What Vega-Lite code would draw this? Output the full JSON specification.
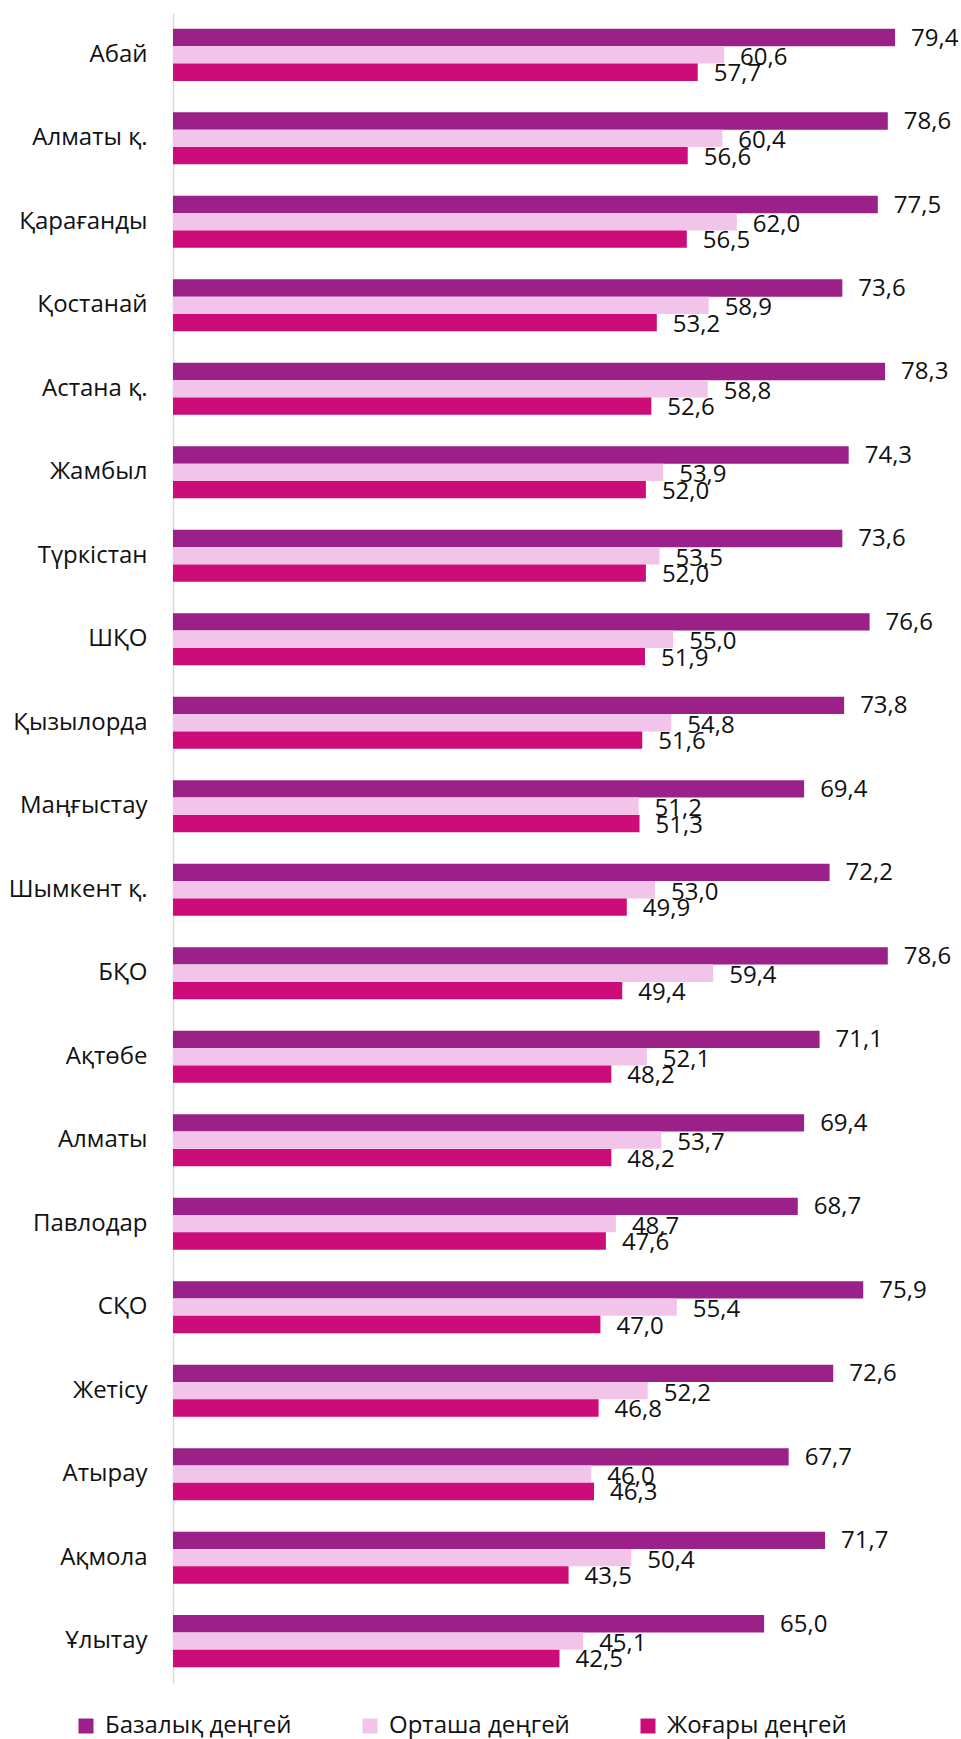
{
  "$schema": "https://vega.github.io/schema/vega-lite/v6.json",
  "width": 773,
  "height": 1670,
  "autosize": {"type": "none"},
  "padding": {"left": 173, "top": 13, "right": 15, "bottom": 56},
  "background": "white",
  "config": {
    "view": {"stroke": null},
    "font": "Open Sans",
    "locale": {"number": {"decimal": ",", "thousands": " ", "grouping": [3], "currency": ["", ""]}}
  },
  "data": {
    "values": [
      {"region": "Абай", "level": "Базалық деңгей", "value": 79.4},
      {"region": "Абай", "level": "Орташа деңгей", "value": 60.6},
      {"region": "Абай", "level": "Жоғары деңгей", "value": 57.7},
      {"region": "Алматы қ.", "level": "Базалық деңгей", "value": 78.6},
      {"region": "Алматы қ.", "level": "Орташа деңгей", "value": 60.4},
      {"region": "Алматы қ.", "level": "Жоғары деңгей", "value": 56.6},
      {"region": "Қарағанды", "level": "Базалық деңгей", "value": 77.5},
      {"region": "Қарағанды", "level": "Орташа деңгей", "value": 62.0},
      {"region": "Қарағанды", "level": "Жоғары деңгей", "value": 56.5},
      {"region": "Қостанай", "level": "Базалық деңгей", "value": 73.6},
      {"region": "Қостанай", "level": "Орташа деңгей", "value": 58.9},
      {"region": "Қостанай", "level": "Жоғары деңгей", "value": 53.2},
      {"region": "Астана қ.", "level": "Базалық деңгей", "value": 78.3},
      {"region": "Астана қ.", "level": "Орташа деңгей", "value": 58.8},
      {"region": "Астана қ.", "level": "Жоғары деңгей", "value": 52.6},
      {"region": "Жамбыл", "level": "Базалық деңгей", "value": 74.3},
      {"region": "Жамбыл", "level": "Орташа деңгей", "value": 53.9},
      {"region": "Жамбыл", "level": "Жоғары деңгей", "value": 52.0},
      {"region": "Түркістан", "level": "Базалық деңгей", "value": 73.6},
      {"region": "Түркістан", "level": "Орташа деңгей", "value": 53.5},
      {"region": "Түркістан", "level": "Жоғары деңгей", "value": 52.0},
      {"region": "ШҚО", "level": "Базалық деңгей", "value": 76.6},
      {"region": "ШҚО", "level": "Орташа деңгей", "value": 55.0},
      {"region": "ШҚО", "level": "Жоғары деңгей", "value": 51.9},
      {"region": "Қызылорда", "level": "Базалық деңгей", "value": 73.8},
      {"region": "Қызылорда", "level": "Орташа деңгей", "value": 54.8},
      {"region": "Қызылорда", "level": "Жоғары деңгей", "value": 51.6},
      {"region": "Маңғыстау", "level": "Базалық деңгей", "value": 69.4},
      {"region": "Маңғыстау", "level": "Орташа деңгей", "value": 51.2},
      {"region": "Маңғыстау", "level": "Жоғары деңгей", "value": 51.3},
      {"region": "Шымкент қ.", "level": "Базалық деңгей", "value": 72.2},
      {"region": "Шымкент қ.", "level": "Орташа деңгей", "value": 53.0},
      {"region": "Шымкент қ.", "level": "Жоғары деңгей", "value": 49.9},
      {"region": "БҚО", "level": "Базалық деңгей", "value": 78.6},
      {"region": "БҚО", "level": "Орташа деңгей", "value": 59.4},
      {"region": "БҚО", "level": "Жоғары деңгей", "value": 49.4},
      {"region": "Ақтөбе", "level": "Базалық деңгей", "value": 71.1},
      {"region": "Ақтөбе", "level": "Орташа деңгей", "value": 52.1},
      {"region": "Ақтөбе", "level": "Жоғары деңгей", "value": 48.2},
      {"region": "Алматы", "level": "Базалық деңгей", "value": 69.4},
      {"region": "Алматы", "level": "Орташа деңгей", "value": 53.7},
      {"region": "Алматы", "level": "Жоғары деңгей", "value": 48.2},
      {"region": "Павлодар", "level": "Базалық деңгей", "value": 68.7},
      {"region": "Павлодар", "level": "Орташа деңгей", "value": 48.7},
      {"region": "Павлодар", "level": "Жоғары деңгей", "value": 47.6},
      {"region": "СҚО", "level": "Базалық деңгей", "value": 75.9},
      {"region": "СҚО", "level": "Орташа деңгей", "value": 55.4},
      {"region": "СҚО", "level": "Жоғары деңгей", "value": 47.0},
      {"region": "Жетісу", "level": "Базалық деңгей", "value": 72.6},
      {"region": "Жетісу", "level": "Орташа деңгей", "value": 52.2},
      {"region": "Жетісу", "level": "Жоғары деңгей", "value": 46.8},
      {"region": "Атырау", "level": "Базалық деңгей", "value": 67.7},
      {"region": "Атырау", "level": "Орташа деңгей", "value": 46.0},
      {"region": "Атырау", "level": "Жоғары деңгей", "value": 46.3},
      {"region": "Ақмола", "level": "Базалық деңгей", "value": 71.7},
      {"region": "Ақмола", "level": "Орташа деңгей", "value": 50.4},
      {"region": "Ақмола", "level": "Жоғары деңгей", "value": 43.5},
      {"region": "Ұлытау", "level": "Базалық деңгей", "value": 65.0},
      {"region": "Ұлытау", "level": "Орташа деңгей", "value": 45.1},
      {"region": "Ұлытау", "level": "Жоғары деңгей", "value": 42.5}
    ]
  },
  "encoding": {
    "y": {
      "field": "region", "type": "nominal", "sort": null, "title": null,
      "scale": {"paddingInner": 0.377, "paddingOuter": 0.19},
      "axis": {"ticks": false, "domainColor": "#d9d9d9", "domainWidth": 1.5, "labelFontSize": 24, "labelColor": "#111111", "labelPadding": 26, "labelFont": "Open Sans", "labelLimit": 0}
    },
    "yOffset": {
      "field": "level", "type": "nominal",
      "sort": ["Базалық деңгей", "Орташа деңгей", "Жоғары деңгей"],
      "scale": {"paddingInner": 0, "paddingOuter": 0}
    },
    "x": {"field": "value", "type": "quantitative", "scale": {"domain": [0, 85]}, "axis": null}
  },
  "layer": [
    {
      "mark": {"type": "bar"},
      "encoding": {
        "color": {
          "field": "level", "type": "nominal",
          "scale": {"domain": ["Базалық деңгей", "Орташа деңгей", "Жоғары деңгей"], "range": ["#9b2189", "#f3c4e9", "#cb0c79"]},
          "legend": {
            "orient": "none", "legendX": -99, "legendY": 1701, "direction": "horizontal", "columns": 3, "gridAlign": "each",
            "columnPadding": 66, "symbolType": "square", "symbolSize": 225, "symbolStrokeWidth": 0,
            "labelFontSize": 24, "labelOffset": 7, "title": null, "labelColor": "#111111", "labelLimit": 0, "labelFont": "Open Sans"
          }
        }
      }
    },
    {
      "transform": [{"filter": "datum.level === 'Базалық деңгей'"}],
      "mark": {"type": "text", "align": "left", "baseline": "middle", "dx": 16, "dy": 1, "fontSize": 24, "color": "#111111"},
      "encoding": {"text": {"field": "value", "type": "quantitative", "format": ".1f"}}
    },
    {
      "transform": [{"filter": "datum.level === 'Орташа деңгей'"}],
      "mark": {"type": "text", "align": "left", "baseline": "middle", "dx": 16, "dy": 3, "fontSize": 24, "color": "#111111"},
      "encoding": {"text": {"field": "value", "type": "quantitative", "format": ".1f"}}
    },
    {
      "transform": [{"filter": "datum.level === 'Жоғары деңгей'"}],
      "mark": {"type": "text", "align": "left", "baseline": "middle", "dx": 16, "dy": 2, "fontSize": 24, "color": "#111111"},
      "encoding": {"text": {"field": "value", "type": "quantitative", "format": ".1f"}}
    }
  ]
}
